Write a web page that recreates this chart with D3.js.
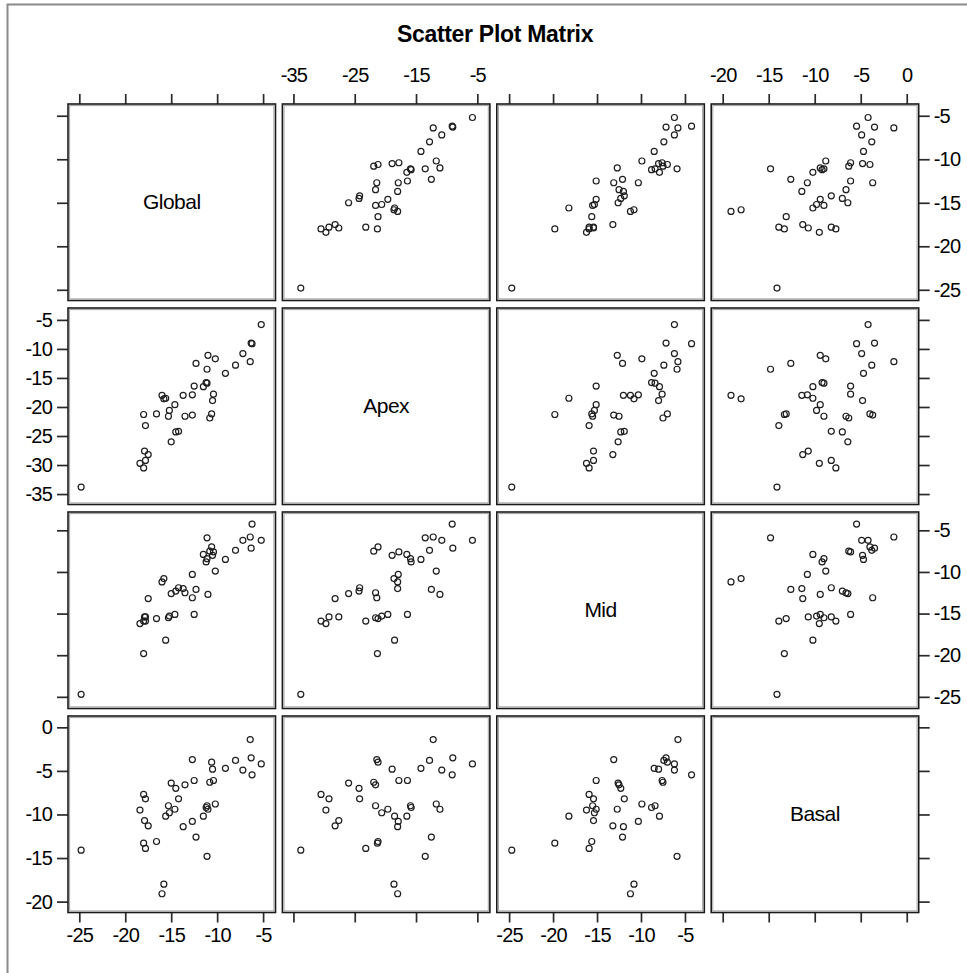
<!DOCTYPE html>
<html>
<head>
<meta charset="utf-8">
<script src="https://cdn.jsdelivr.net/npm/d3@7"></script>
<style>
  html, body { margin: 0; padding: 0; background: #fff; }
  svg { display: block; }
</style>
</head>
<body>
<svg id="chart"></svg>
<script>
// Variables of the matrix, in display order
const names = ["Global", "Apex", "Mid", "Basal"]

// One value per observation, same order in every array
const globalVals = [-24.8, -18.4, -18.0, -17.8, -17.9, -17.5, -18.0, -17.8, -16.6, -16.0, -15.8,
  -15.6, -15.3, -15.2, -14.6, -15.0, -14.5, -13.5, -14.2, -13.7, -12.7, -12.5, -12.7, -12.3,
  -11.5, -11.2, -11.1, -11.0, -11.1, -10.6, -10.5, -10.8, -10.4, -10.2, -9.1, -8.0, -7.2,
  -6.4, -6.3, -6.2, -5.2]
const apexVals = [-33.8, -29.7, -30.5, -29.2, -27.6, -28.2, -21.3, -23.2, -21.2, -18.0, -18.6,
  -18.5, -21.6, -20.6, -19.6, -26.0, -24.3, -21.6, -24.2, -18.0, -21.4, -16.4, -17.9, -12.5,
  -16.5, -15.8, -15.9, -11.1, -13.5, -21.2, -18.9, -21.9, -17.8, -11.7, -14.2, -12.8, -10.8,
  -12.2, -9.0, -9.1, -5.8]
const midVals = [-24.7, -16.2, -15.9, -15.4, -15.4, -13.2, -19.8, -15.9, -15.6, -11.2, -10.8,
  -18.2, -15.5, -15.3, -15.1, -12.6, -12.3, -12.5, -11.9, -12.0, -13.1, -15.1, -10.3, -12.1,
  -7.9, -8.8, -8.4, -12.7, -5.9, -7.0, -8.0, -7.5, -7.6, -9.9, -8.5, -7.4, -6.2,
  -5.8, -7.15, -4.25, -6.2]
const basalVals = [-14.1, -9.5, -7.7, -8.2, -10.7, -11.3, -13.3, -13.9, -13.1, -19.1, -18.0,
  -10.2, -9.0, -9.8, -9.4, -6.4, -7.0, -6.6, -8.2, -11.4, -3.7, -6.1, -10.8, -12.6,
  -10.2, -9.2, -9.0, -9.4, -14.8, -4.0, -4.8, -6.3, -6.1, -8.8, -4.7, -3.8, -4.9,
  -1.4, -3.5, -5.45, -4.2]

// Axis extents (value at the panel edges) and tick values per variable
const extents = [[-26.23, -3.65], [-36.8, -2.95], [-26.4, -2.8], [-21.25, 1.3]]
const ticksH = [[-25, -20, -15, -10, -5], [-35, -25, -15, -5], [-25, -20, -15, -10, -5], [-20, -15, -10, -5, 0]]
const ticksV = [[-25, -20, -15, -10, -5], [-35, -30, -25, -20, -15, -10, -5], [-25, -20, -15, -10, -5], [-20, -15, -10, -5, 0]]

const title = "Scatter Plot Matrix"

const columns = [globalVals, apexVals, midVals, basalVals]
const data = globalVals.map((_, i) => columns.map(c => c[i]))

const width = 967
const height = 973
const font = "'Liberation Sans', Arial, sans-serif"
const n = names.length

// Panel placement
const gridLeft = 68, gridTop = 104
const cellW = 207.5, cellH = 196.5
const stepX = 214.4, stepY = 204

const svg = d3.select("#chart")
  .attr("width", width)
  .attr("height", height)

svg.selectAll("*").remove()

svg.append("rect")
  .attr("width", width)
  .attr("height", height)
  .attr("fill", "#fff")

// Outer frame (top and left edges only)
svg.append("path")
  .attr("d", `M7.5,${height} V4.5 H${width}`)
  .attr("fill", "none")
  .attr("stroke", "#8a8a8a")
  .attr("stroke-width", 2)

svg.append("text")
  .attr("x", 495)
  .attr("y", 41.5)
  .attr("text-anchor", "middle")
  .attr("font-family", font)
  .attr("font-weight", "bold")
  .attr("font-size", 23)
  .attr("letter-spacing", -0.3)
  .text(title)

// Scales per column (x) and per row (y)
const xScales = names.map((_, i) => d3.scaleLinear()
  .domain(extents[i])
  .range([gridLeft + i * stepX, gridLeft + i * stepX + cellW]))
const yScales = names.map((_, i) => d3.scaleLinear()
  .domain(extents[i])
  .range([gridTop + i * stepY + cellH, gridTop + i * stepY]))

const styleAxis = g => g
  .call(g => g.select(".domain").remove())
  .call(g => g.selectAll(".tick line")
    .attr("stroke", "#2a2a2a")
    .attr("stroke-width", 1.7))
  .call(g => g.selectAll(".tick text")
    .attr("font-family", font)
    .attr("font-size", 20)
    .attr("letter-spacing", -0.8)
    .attr("fill", "#000"))

// Plain hyphen for negatives, as in the original
const label = d => String(d)
const noLabel = () => ""

// Top and bottom axes, labels alternate between columns
names.forEach((_, i) => {
  svg.append("g")
    .attr("transform", `translate(0, ${gridTop})`)
    .call(d3.axisTop(xScales[i])
      .tickValues(ticksH[i])
      .tickSize(10)
      .tickPadding(12)
      .tickFormat(i % 2 === 1 ? label : noLabel))
    .call(styleAxis)

  svg.append("g")
    .attr("transform", `translate(0, ${gridTop + (n - 1) * stepY + cellH})`)
    .call(d3.axisBottom(xScales[i])
      .tickValues(ticksH[i])
      .tickSize(10)
      .tickPadding(5)
      .tickFormat(i % 2 === 0 ? label : noLabel))
    .call(styleAxis)
})

// Left and right axes, labels alternate between rows
names.forEach((_, i) => {
  svg.append("g")
    .attr("transform", `translate(${gridLeft}, 0)`)
    .call(d3.axisLeft(yScales[i])
      .tickValues(ticksV[i])
      .tickSize(11)
      .tickPadding(5)
      .tickFormat(i % 2 === 1 ? label : noLabel))
    .call(styleAxis)

  svg.append("g")
    .attr("transform", `translate(${gridLeft + (n - 1) * stepX + cellW}, 0)`)
    .call(d3.axisRight(yScales[i])
      .tickValues(ticksV[i])
      .tickSize(11)
      .tickPadding(4)
      .tickFormat(i % 2 === 0 ? label : noLabel))
    .call(styleAxis)
})

// Panels
const cells = d3.cross(d3.range(n), d3.range(n)).map(([r, c]) => ({ r, c }))

const panel = svg.append("g")
  .selectAll("g")
  .data(cells)
  .join("g")

// Frame: dark outer line with a grey line just inside
panel.append("rect")
  .attr("x", d => xScales[d.c].range()[0])
  .attr("y", d => yScales[d.r].range()[1])
  .attr("width", cellW)
  .attr("height", cellH)
  .attr("fill", "none")
  .attr("stroke", "#1a1a1a")
  .attr("stroke-width", 1.6)

panel.append("rect")
  .attr("x", d => xScales[d.c].range()[0] + 1.6)
  .attr("y", d => yScales[d.r].range()[1] + 1.6)
  .attr("width", cellW - 3.2)
  .attr("height", cellH - 3.2)
  .attr("fill", "none")
  .attr("stroke", "#a0a0a0")
  .attr("stroke-width", 1)

// Variable names on the diagonal
panel.filter(d => d.r === d.c)
  .append("text")
  .attr("x", d => xScales[d.c].range()[0] + cellW / 2)
  .attr("y", d => yScales[d.r].range()[1] + cellH / 2 + 7)
  .attr("text-anchor", "middle")
  .attr("font-family", font)
  .attr("font-size", 21)
  .attr("letter-spacing", -0.5)
  .text(d => names[d.r])

// Points off the diagonal
panel.filter(d => d.r !== d.c)
  .selectAll("circle")
  .data(d => data.map(row => ({ x: row[d.c], y: row[d.r], c: d.c, r: d.r })))
  .join("circle")
  .attr("cx", p => xScales[p.c](p.x))
  .attr("cy", p => yScales[p.r](p.y))
  .attr("r", 3)
  .attr("fill", "none")
  .attr("stroke", "#1e1e1e")
  .attr("stroke-width", 1.2)
</script>
</body>
</html>
